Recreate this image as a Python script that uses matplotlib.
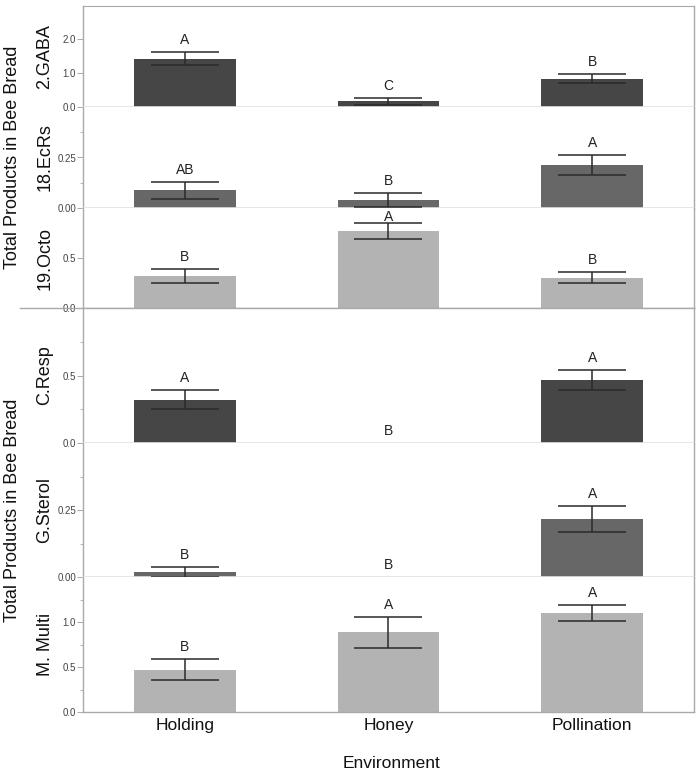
import matplotlib
matplotlib.use("Agg")
import matplotlib.pyplot as plt
from matplotlib.lines import Line2D

plt.rcParams['font.family'] = ['Liberation Sans', 'DejaVu Sans']

# ---- data ----
environments = ['Holding', 'Honey', 'Pollination']

panel_names = ['2.GABA', '18.EcRs', '19.Octo', 'C.Resp', 'G.Sterol', 'M. Multi']

gaba_mean = [1.41, 0.17, 0.83]
gaba_err = [0.19, 0.10, 0.14]
gaba_letters = ['A', 'C', 'B']

ecrs_mean = [0.087, 0.039, 0.213]
ecrs_err = [0.040, 0.035, 0.050]
ecrs_letters = ['AB', 'B', 'A']

octo_mean = [0.32, 0.775, 0.305]
octo_err = [0.072, 0.080, 0.055]
octo_letters = ['B', 'A', 'B']

resp_mean = [0.32, 0.0, 0.465]
resp_err = [0.07, 0.0, 0.075]
resp_letters = ['A', 'B', 'A']

sterol_mean = [0.020, 0.0, 0.216]
sterol_err = [0.019, 0.0, 0.049]
sterol_letters = ['B', 'B', 'A']

multi_mean = [0.47, 0.885, 1.10]
multi_err = [0.117, 0.17, 0.085]
multi_letters = ['B', 'A', 'A']

# axis ranges and ticks per panel
y_max = [2.95, 0.5, 1.0, 1.0, 0.5, 1.5]
major_ticks = [[0, 1, 2], [0, 0.25], [0, 0.5], [0, 0.5], [0, 0.25], [0, 0.5, 1.0]]
major_labels = [['0.0', '1.0', '2.0'], ['0.00', '0.25'], ['0.0', '0.5'],
                ['0.0', '0.5'], ['0.00', '0.25'], ['0.0', '0.5', '1.0']]
minor_ticks = [[], [0.125, 0.375], [], [0.25, 0.75], [0.125, 0.375], [0.25, 0.75, 1.25]]

means = [gaba_mean, ecrs_mean, octo_mean, resp_mean, sterol_mean, multi_mean]
errs = [gaba_err, ecrs_err, octo_err, resp_err, sterol_err, multi_err]
letters = [gaba_letters, ecrs_letters, octo_letters, resp_letters, sterol_letters, multi_letters]

# ---- layout (pixels) ----
W, H = 697, 775
left_px, right_px = 83, 694
edges = [6, 107, 208, 308, 443, 577, 712]
bar_colors = ['#464646', '#676767', '#b3b3b3', '#464646', '#676767', '#b3b3b3']
frame_col = '#a9a9a9'
sep_col = '#e2e2e2'

fig = plt.figure(figsize=(W / 100, H / 100), dpi=100)

for i in range(6):
    top, bot = edges[i], edges[i + 1]
    ax = fig.add_axes([left_px / W, 1 - bot / H, (right_px - left_px) / W, (bot - top) / H])
    x = range(len(environments))
    m = means[i]
    e = errs[i]
    ax.bar(x, m, width=0.5, color=bar_colors[i], edgecolor='none', zorder=2)
    for j in x:
        if m[j] > 0:
            ax.errorbar(j, m[j], yerr=e[j], fmt='none', ecolor='#2a2a2a',
                        elinewidth=1.1, capsize=24.5, capthick=1.1, zorder=3)
    ax.set_xlim(-0.5, 2.5)
    ax.set_ylim(0, y_max[i])

    # letters above error bars (squeezed under the panel top when needed)
    ppu = (bot - top) / y_max[i]
    for j in x:
        t = m[j] + e[j]
        off_px = min(8, (y_max[i] - t) * ppu - 13)
        ax.annotate(letters[i][j], xy=(j, t), xytext=(0, off_px * 0.72),
                    textcoords='offset points', ha='center', va='baseline',
                    fontsize=10, color='#222222', zorder=4)

    ax.set_yticks(major_ticks[i])
    ax.set_yticklabels(major_labels[i])
    ax.set_yticks(minor_ticks[i], minor=True)
    ax.tick_params(axis='y', which='major', length=4, width=0.7, color=frame_col,
                   labelsize=7, labelcolor='#444444', pad=1)
    ax.tick_params(axis='y', which='minor', length=2.5, width=0.6, color=frame_col)

    for s in ['left', 'right']:
        ax.spines[s].set_color(frame_col)
        ax.spines[s].set_linewidth(1.0)
    ax.spines['top'].set_visible(i == 0)
    ax.spines['top'].set_color(frame_col)
    if i in (0, 1, 3, 4):
        ax.spines['bottom'].set_color(sep_col)
        ax.spines['bottom'].set_linewidth(1.2)
    else:
        ax.spines['bottom'].set_color(frame_col)
        ax.spines['bottom'].set_linewidth(1.0)

    if i == 5:
        ax.set_xticks(list(x))
        ax.set_xticklabels(environments, fontsize=12.5, color='#111111')
        ax.tick_params(axis='x', length=0, pad=4)
    else:
        ax.set_xticks([])

    # panel label
    fig.text(45 / W, 1 - (top + bot) / 2 / H, panel_names[i], rotation=90,
             ha='center', va='center', fontsize=13, color='#111111')

# group separator reaching into the label area
fig.add_artist(Line2D([20 / W, right_px / W], [1 - 308 / H, 1 - 308 / H],
                      color=frame_col, linewidth=1.0))

# shared y titles for both groups
for g_top, g_bot in [(edges[0], edges[3]), (edges[3], edges[6])]:
    fig.text(13 / W, 1 - (g_top + g_bot) / 2 / H, 'Total Products in Bee Bread',
             rotation=90, ha='center', va='center', fontsize=13, color='#111111')

fig.text(391 / W, 1 - 763 / H, 'Environment', ha='center', va='center',
         fontsize=12.5, color='#111111')

fig.savefig('out.png', dpi=100)
